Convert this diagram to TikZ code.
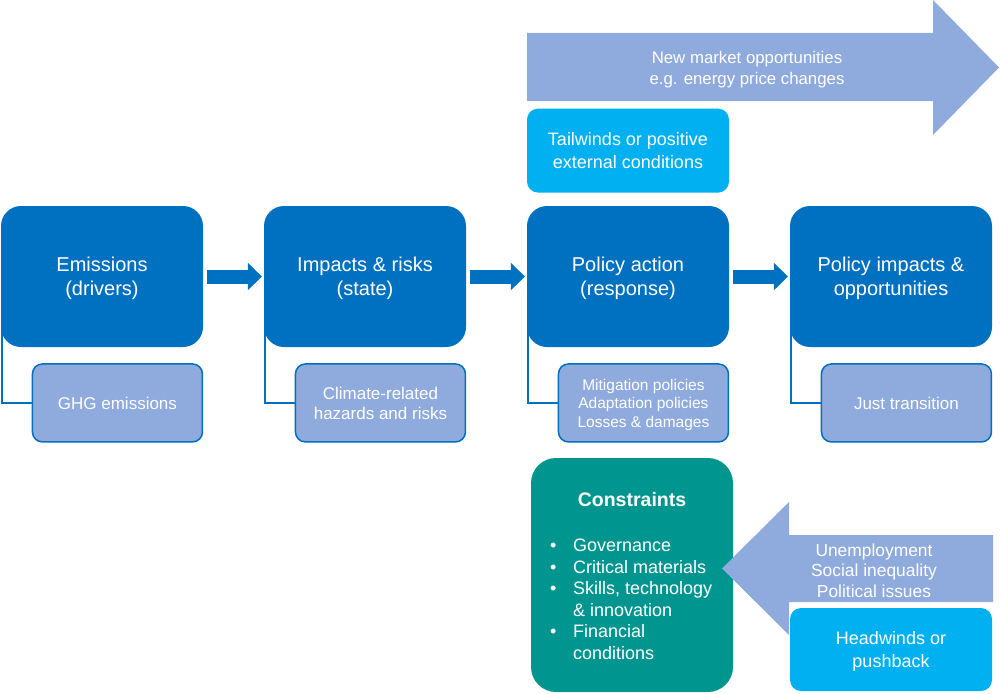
\documentclass[tikz,border=0pt]{standalone}
\usepackage{fontspec}
\setmainfont{Liberation Sans}
\usetikzlibrary{positioning,arrows.meta}
\definecolor{mainblue}{RGB}{0,112,192}
\definecolor{paleblue}{RGB}{143,170,220}
\definecolor{skyblue}{RGB}{0,176,240}
\definecolor{teal}{RGB}{0,150,143}
\begin{document}
\begin{tikzpicture}[x=1pt,y=-1pt,node distance=263pt,
    stage/.style={fill=mainblue,text=white,rounded corners=20pt,minimum width=202pt,minimum height=141pt,align=center,text depth=0pt,font=\fontsize{20}{24}\selectfont},
    detail/.style={fill=paleblue,draw=mainblue,line width=1.5pt,text=white,rounded corners=10pt,minimum width=170pt,minimum height=78pt,align=center,text depth=0pt,font=\fontsize{17}{20}\selectfont},
    wind/.style={fill=skyblue,text=white,rounded corners=11pt,minimum width=202pt,minimum height=84pt,align=center,text depth=0pt,font=\fontsize{18}{22.5}\selectfont},
    flow/.style={draw=mainblue,line width=14pt,-{Triangle[length=14pt,width=27pt]},shorten <=4pt,shorten >=2pt},
    link/.style={draw=mainblue,line width=1.8pt}]
    \useasboundingbox (0,0) rectangle (1000,693);
    % stages
    \node[stage](em) at (102,276.5){Emissions\\(drivers)};
    \node[stage](imp)[right of=em]{Impacts \& risks\\(state)};
    \node[stage](pol)[right of=imp]{Policy action\\(response)};
    \node[stage](out)[right of=pol]{Policy impacts \&\\opportunities};
    \path (em) edge[flow] (imp);
    \path (imp) edge[flow] (pol);
    \path (pol) edge[flow] (out);
    % details
    \node[detail](ghg)[below left=16pt and 0pt of em.south east,anchor=north east]{GHG emissions};
    \node[detail](haz)[below left=16pt and 0pt of imp.south east,anchor=north east]{Climate-related\\hazards and risks};
    \node[detail,font=\fontsize{15.5}{18.5}\selectfont](pols)[below left=16pt and 0pt of pol.south east,anchor=north east]{Mitigation policies\\Adaptation policies\\Losses \& damages};
    \node[detail](just)[below left=16pt and 0pt of out.south east,anchor=north east]{Just transition};
    \draw[link] ([xshift=1pt]em.west) |- (ghg.west);
    \draw[link] ([xshift=1pt]imp.west) |- (haz.west);
    \draw[link] ([xshift=1pt]pol.west) |- (pols.west);
    \draw[link] ([xshift=1pt]out.west) |- (just.west);
    % constraints
    \node[fill=teal,rounded corners=25pt,minimum width=202pt,minimum height=234pt](con) at (632,575){};
    \node[text=white,inner sep=0pt,font=\bfseries\fontsize{19.5}{23}\selectfont](contitle) at (632,500){Constraints};
    \node[text=white,inner sep=0pt,anchor=base west,font=\fontsize{18}{21.6}\selectfont](conlist) at (550,551.5){%
      \begin{tabular}[t]{@{}p{23pt}@{}l@{}}
      \textbullet & Governance\\
      \textbullet & Critical materials\\
      \textbullet & Skills, technology\\
       & \& innovation\\
      \textbullet & Financial\\
       & conditions
      \end{tabular}};
    % big arrows
    \fill[paleblue] (527,33) -- (933,33) -- (933,0) -- (999,67.5) -- (933,135) -- (933,101) -- (527,101) -- cycle;
    \fill[paleblue] (993,535) -- (789,535) -- (789,502) -- (722,568.5) -- (789,635) -- (789,602) -- (993,602) -- cycle;
    \node[text=white,align=center,font=\fontsize{16.8}{21}\selectfont](market) at (747,70){New market opportunities\\e.g. energy price changes};
    \node[text=white,align=center,font=\fontsize{17.4}{20.5}\selectfont](issues) at (874,570.5){Unemployment\\Social inequality\\Political issues};
    % conditions
    \node[wind](tail)[above=13pt of pol]{Tailwinds or positive\\external conditions};
    \node[wind,minimum height=83pt](head) at (891,649.5){Headwinds or\\pushback};
\end{tikzpicture}
\end{document}
